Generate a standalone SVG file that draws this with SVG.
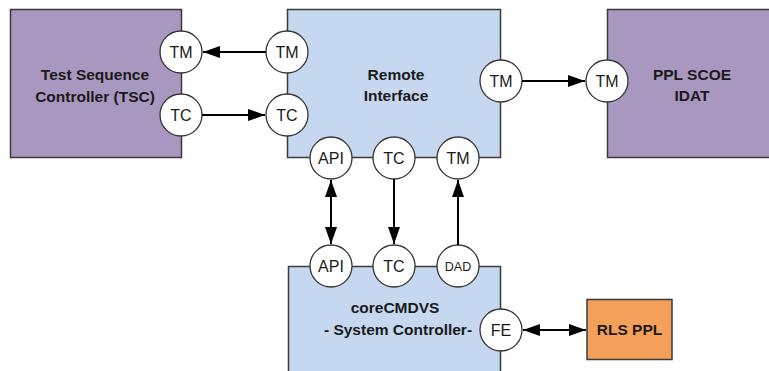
<svg xmlns="http://www.w3.org/2000/svg" width="769" height="371" viewBox="0 0 769 371">
<defs>
<marker id="ah" markerWidth="17" markerHeight="12" refX="17" refY="6" orient="auto-start-reverse" markerUnits="userSpaceOnUse">
<path d="M0,0 L17,6 L0,12 Z" fill="#000"/>
</marker>
</defs>
<style>
.purple{fill:#A898BF;stroke:#3A3A3A;stroke-width:1.5}
.blue{fill:#C6D8EF;stroke:#3A3A3A;stroke-width:1.5}
.orange{fill:#F5A05A;stroke:#3A3A3A;stroke-width:1.5}
.port{fill:#fff;stroke:#333;stroke-width:1.3}
.lbl{font-family:"Liberation Sans",Arial,sans-serif;font-weight:bold;font-size:15.5px;fill:#1a1a1a;text-anchor:middle}
.pt{font-family:"Liberation Sans",Arial,sans-serif;font-size:16px;fill:#1a1a1a;text-anchor:middle}
.sm{font-size:12.5px}
.conn{stroke:#000;stroke-width:2;fill:none}
</style>
<rect width="769" height="371" fill="#fff"/>
<g id="tsc">
<rect class="purple" x="10.5" y="9.5" width="171" height="148"/>
<text class="lbl" x="95" y="80">Test Sequence</text>
<text class="lbl" x="95" y="101.5">Controller (TSC)</text>
<circle class="port" cx="181" cy="52" r="21"/><text class="pt" x="181" y="57.5">TM</text>
<circle class="port" cx="181" cy="115" r="21"/><text class="pt" x="181" y="120.5">TC</text>
</g>
<g id="ri">
<rect class="blue" x="287.5" y="9.5" width="213" height="148"/>
<text class="lbl" x="396" y="79.5">Remote</text>
<text class="lbl" x="396" y="101">Interface</text>
<circle class="port" cx="287" cy="52" r="21"/><text class="pt" x="287" y="57.5">TM</text>
<circle class="port" cx="287" cy="115" r="21"/><text class="pt" x="287" y="120.5">TC</text>
<circle class="port" cx="501" cy="81" r="21"/><text class="pt" x="501" y="86.5">TM</text>
<circle class="port" cx="331" cy="158" r="21"/><text class="pt" x="331" y="163.5">API</text>
<circle class="port" cx="394" cy="158" r="21"/><text class="pt" x="394" y="163.5">TC</text>
<circle class="port" cx="458" cy="158" r="21"/><text class="pt" x="458" y="163.5">TM</text>
</g>
<g id="ppl">
<rect class="purple" x="607.5" y="9.5" width="170" height="148"/>
<text class="lbl" x="692" y="79.5">PPL SCOE</text>
<text class="lbl" x="692" y="100.5">IDAT</text>
<circle class="port" cx="607" cy="81" r="21"/><text class="pt" x="607" y="86.5">TM</text>
</g>
<g id="core">
<rect class="blue" x="288.5" y="266.5" width="212" height="120"/>
<text class="lbl" x="395" y="313">coreCMDVS</text>
<text class="lbl" x="398" y="334.5">- System Controller-</text>
<circle class="port" cx="331" cy="266" r="21"/><text class="pt" x="331" y="271.5">API</text>
<circle class="port" cx="394" cy="266" r="21"/><text class="pt" x="394" y="271.5">TC</text>
<circle class="port" cx="458" cy="266" r="21"/><text class="pt sm" x="458" y="270.5">DAD</text>
<circle class="port" cx="501" cy="330" r="21"/><text class="pt" x="501" y="335.5">FE</text>
</g>
<g id="rls">
<rect class="orange" x="587" y="299.5" width="85" height="60"/>
<text class="lbl" x="629.5" y="335">RLS PPL</text>
</g>
<g id="connectors">
<line class="conn" x1="266" y1="52" x2="203" y2="52" marker-end="url(#ah)"/>
<line class="conn" x1="202" y1="115" x2="265" y2="115" marker-end="url(#ah)"/>
<line class="conn" x1="522" y1="81" x2="585" y2="81" marker-end="url(#ah)"/>
<line class="conn" x1="331" y1="180" x2="331" y2="244" marker-start="url(#ah)" marker-end="url(#ah)"/>
<line class="conn" x1="394" y1="179" x2="394" y2="244" marker-end="url(#ah)"/>
<line class="conn" x1="458" y1="245" x2="458" y2="180" marker-end="url(#ah)"/>
<line class="conn" x1="523" y1="330" x2="586" y2="330" marker-start="url(#ah)" marker-end="url(#ah)"/>
</g>
</svg>
